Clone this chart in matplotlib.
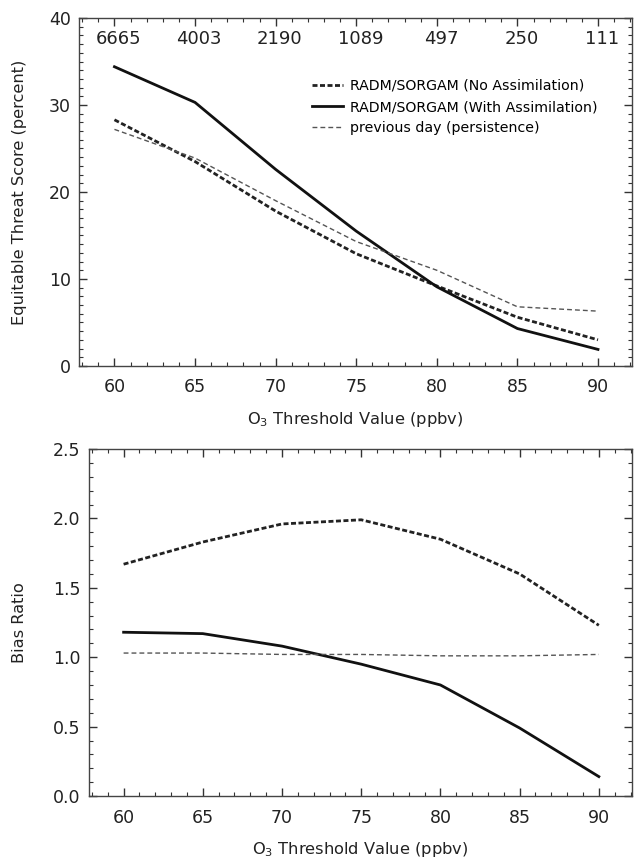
import numpy as np
import matplotlib
matplotlib.use("Agg")
from matplotlib import pyplot as plt
from matplotlib.ticker import MultipleLocator

plt.rcParams['font.family'] = ['DejaVu Sans']
plt.rcParams['mathtext.default'] = 'regular'

thresholds = [60, 65, 70, 75, 80, 85, 90]
counts = ["6665", "4003", "2190", "1089", "497", "250", "111"]

ets_no_assim = [28.3, 23.5, 17.8, 12.9, 9.2, 5.6, 3.0]
ets_with_assim = [34.4, 30.3, 22.6, 15.5, 9.1, 4.3, 1.9]
ets_persist = [27.2, 23.9, 19.0, 14.3, 11.0, 6.8, 6.3]

bias_no_assim = [1.67, 1.83, 1.96, 1.99, 1.85, 1.60, 1.23]
bias_with_assim = [1.18, 1.17, 1.08, 0.95, 0.80, 0.49, 0.14]
bias_persist = [1.03, 1.03, 1.02, 1.02, 1.01, 1.01, 1.02]

labels = ["RADM/SORGAM (No Assimilation)",
          "RADM/SORGAM (With Assimilation)",
          "previous day (persistence)"]

fig = plt.figure(figsize=(6.34, 8.59), dpi=100)
ax1 = fig.add_axes([0.1246, 0.574, 0.872, 0.405])
ax2 = fig.add_axes([0.140, 0.0733, 0.857, 0.404])

def style(ax, ymajor, yminor):
    ax.set_xlim(57.8, 92.1)
    ax.xaxis.set_major_locator(MultipleLocator(5))
    ax.xaxis.set_minor_locator(MultipleLocator(1))
    ax.yaxis.set_major_locator(MultipleLocator(ymajor))
    ax.yaxis.set_minor_locator(MultipleLocator(yminor))
    ax.tick_params(which='both', direction='in', top=True, right=True,
                   colors='#333333', labelcolor='#222222')
    ax.tick_params(which='major', length=6, width=1, labelsize=12.5)
    ax.tick_params(axis='x', which='major', pad=9)
    ax.tick_params(axis='y', which='major', pad=6)
    ax.tick_params(which='minor', length=3.2, width=0.8)
    for s in ax.spines.values():
        s.set_color('#444444')
        s.set_linewidth(1.0)
    ax.set_xlabel('O$_3$ Threshold Value (ppbv)', fontsize=11.7, labelpad=10,
                  color='#222222')

def draw(ax, a, b, c):
    ax.plot(thresholds, a, color='#222222', lw=2.0, dashes=(1.8, 0.9),
            label=labels[0])
    ax.plot(thresholds, b, color='#111111', lw=2.0, label=labels[1])
    ax.plot(thresholds, c, color='#555555', lw=1.0, dashes=(3.5, 2.2),
            label=labels[2])

draw(ax1, ets_no_assim, ets_with_assim, ets_persist)
style(ax1, 10, 1)
ax1.set_ylim(0, 40)
ax1.set_ylabel('Equitable Threat Score (percent)', fontsize=11.7,
               color='#222222')
ax1.yaxis.set_label_coords(-0.094, 0.5)
for x, c in zip(thresholds, counts):
    ax1.text(x + 0.25, 37.6, c, ha='center', va='center', fontsize=13,
             color='#222222')
ax1.legend(loc='upper left', bbox_to_anchor=(0.421, 0.825), frameon=False,
           fontsize=10.2, handlelength=2.2, handletextpad=0.5,
           borderaxespad=0, borderpad=0, labelspacing=0.5)

draw(ax2, bias_no_assim, bias_with_assim, bias_persist)
style(ax2, 0.5, 0.1)
ax2.set_ylim(0, 2.5)
ax2.yaxis.set_major_formatter(plt.FormatStrFormatter('%.1f'))
ax2.set_ylabel('Bias Ratio', fontsize=11.7, color='#222222')
ax2.yaxis.set_label_coords(-0.114, 0.5)

fig.savefig('out.png', dpi=100)
